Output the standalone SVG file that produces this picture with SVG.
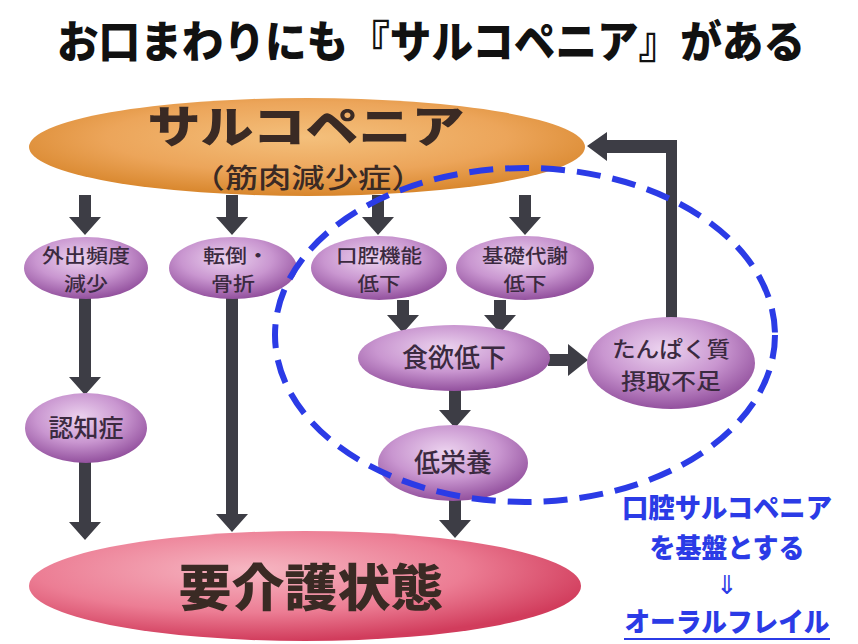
<svg xmlns="http://www.w3.org/2000/svg" width="858" height="644" viewBox="0 0 858 644">
<defs>
<radialGradient id="gOrange" cx="50%" cy="40%" r="60%">
<stop offset="0" stop-color="#f4c07c"/>
<stop offset="0.6" stop-color="#eca55a"/>
<stop offset="1" stop-color="#d8862c"/>
</radialGradient>
<radialGradient id="gPurple" cx="45%" cy="35%" r="65%">
<stop offset="0" stop-color="#ecd3ef"/>
<stop offset="0.55" stop-color="#c996d0"/>
<stop offset="1" stop-color="#93519e"/>
</radialGradient>
<radialGradient id="gPink" cx="40%" cy="35%" r="65%">
<stop offset="0" stop-color="#f6b6c2"/>
<stop offset="0.6" stop-color="#ec7d94"/>
<stop offset="1" stop-color="#d13c5c"/>
</radialGradient>
<style>
.t{font-family:"Noto Sans CJK JP","Noto Sans",sans-serif;text-anchor:middle}
.title{font-size:44px;font-weight:900;fill:#111}
.big{font-size:44px;font-weight:900;fill:#3a2a24}
.sub{font-size:27px;font-weight:500;fill:#3a2a24}
.lbl{font-size:19px;font-weight:500;fill:#3b2a40}
.lbl2{font-size:25px;font-weight:500;fill:#3b2a40}
.lbl3{font-size:22px;font-weight:500;fill:#3b2a40}
.blue{font-size:27px;font-weight:900;fill:#2b3be6}
.arr{fill:#3d3d45}
.node{stroke:none}
</style>
</defs>
<rect width="858" height="644" fill="#ffffff"/>
<text class="t title" x="431" y="58" textLength="748" lengthAdjust="spacingAndGlyphs">お口まわりにも『サルコペニア』がある</text>

<g id="connectors">
<path class="arr" d="M79 195H91V217H101L85 235L69 217H79Z"/>
<path class="arr" d="M226 195H238V217H248L232 235L216 217H226Z"/>
<path class="arr" d="M372 195H384V217H394L378 235L362 217H372Z"/>
<path class="arr" d="M519 195H531V217H541L525 235L509 217H519Z"/>
<path class="arr" d="M79 298H91V377H101L85 395L69 377H79Z"/>
<path class="arr" d="M79 462H91V522H101L85 540L69 522H79Z"/>
<path class="arr" d="M226 298H238V514H248L232 532L216 514H226Z"/>
<path class="arr" d="M397 300H409V315H419L403 333L387 315H397Z"/>
<path class="arr" d="M494 300H506V315H516L500 333L484 315H494Z"/>
<path class="arr" d="M548 354V366H568V376L588 360L568 344V354Z"/>
<path class="arr" d="M449 388H461V410H471L455 428L439 410H449Z"/>
<path class="arr" d="M449 500H461V520H471L455 538L439 520H449Z"/>
<path class="arr" d="M666 318V153H607V161L587 146L607 132V140H677V318Z"/>
</g>

<g id="sarcopenia">
<ellipse class="node" cx="307" cy="147" rx="278" ry="49" fill="url(#gOrange)"/>
<text class="t big" x="306" y="143" textLength="317" lengthAdjust="spacingAndGlyphs">サルコペニア</text>
<text class="t sub" x="308" y="188" textLength="233" lengthAdjust="spacingAndGlyphs">（筋肉減少症）</text>
</g>

<g id="gaishutsu">
<ellipse class="node" cx="86" cy="268" rx="62" ry="31" fill="url(#gPurple)"/>
<text class="t lbl" x="86" y="263" textLength="88" lengthAdjust="spacingAndGlyphs">外出頻度</text>
<text class="t lbl" x="86" y="291" textLength="44" lengthAdjust="spacingAndGlyphs">減少</text>
</g>
<g id="tentou">
<ellipse class="node" cx="233" cy="268" rx="64" ry="31" fill="url(#gPurple)"/>
<text class="t lbl" x="236" y="263" textLength="66" lengthAdjust="spacingAndGlyphs">転倒・</text>
<text class="t lbl" x="233" y="291" textLength="44" lengthAdjust="spacingAndGlyphs">骨折</text>
</g>
<g id="koukuu">
<ellipse class="node" cx="379" cy="268" rx="68" ry="32" fill="url(#gPurple)"/>
<text class="t lbl" x="379" y="263" textLength="86" lengthAdjust="spacingAndGlyphs">口腔機能</text>
<text class="t lbl" x="379" y="291" textLength="43" lengthAdjust="spacingAndGlyphs">低下</text>
</g>
<g id="kiso">
<ellipse class="node" cx="525" cy="268" rx="69" ry="32" fill="url(#gPurple)"/>
<text class="t lbl" x="525" y="263" textLength="86" lengthAdjust="spacingAndGlyphs">基礎代謝</text>
<text class="t lbl" x="525" y="291" textLength="43" lengthAdjust="spacingAndGlyphs">低下</text>
</g>
<g id="ninchi">
<ellipse class="node" cx="86" cy="428" rx="61" ry="35" fill="url(#gPurple)"/>
<text class="t lbl2" x="86" y="437">認知症</text>
</g>
<g id="shokuyoku">
<ellipse class="node" cx="454" cy="358" rx="96" ry="33" fill="url(#gPurple)"/>
<text class="t lbl2" x="454" y="367" style="font-size:26px">食欲低下</text>
</g>
<g id="tanpaku">
<ellipse class="node" cx="671" cy="363" rx="84" ry="46" fill="url(#gPurple)"/>
<text class="t lbl3" x="671" y="357" textLength="118" lengthAdjust="spacingAndGlyphs">たんぱく質</text>
<text class="t lbl3" x="671" y="389" textLength="100" lengthAdjust="spacingAndGlyphs">摂取不足</text>
</g>
<g id="teieiyou">
<ellipse class="node" cx="453" cy="463" rx="75" ry="38" fill="url(#gPurple)"/>
<text class="t lbl2" x="453" y="472" style="font-size:26px">低栄養</text>
</g>
<g id="youkaigo">
<ellipse class="node" cx="305" cy="586" rx="276" ry="55" fill="url(#gPink)"/>
<text class="t big" x="311" y="606" style="font-size:50px" textLength="265" lengthAdjust="spacingAndGlyphs">要介護状態</text>
</g>

<g id="oral-sarcopenia">
<ellipse cx="525" cy="335" rx="250" ry="167" fill="none" stroke="#2b3be6" stroke-width="6" stroke-dasharray="24 12"/>
<text class="t blue" x="727" y="518" textLength="210" lengthAdjust="spacingAndGlyphs">口腔サルコペニア</text>
<text class="t blue" x="727" y="558" textLength="155" lengthAdjust="spacingAndGlyphs">を基盤とする</text>
<text x="727" y="594" style="font-family:'DejaVu Sans',sans-serif;font-size:26px;fill:#2b3be6;text-anchor:middle">⇓</text>
<text class="t blue" x="727" y="632" textLength="205" lengthAdjust="spacingAndGlyphs">オーラルフレイル</text>
<line x1="624" y1="639" x2="830" y2="639" stroke="#2b3be6" stroke-width="2"/>
</g>
</svg>
